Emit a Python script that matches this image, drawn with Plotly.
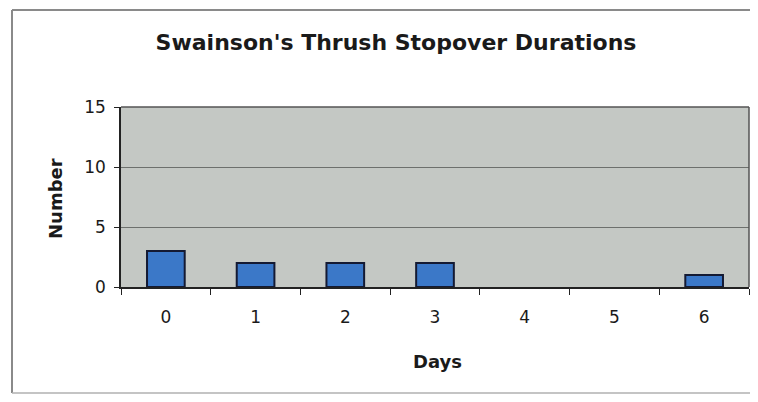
import plotly.graph_objects as go

days = ["0", "1", "2", "3", "4", "5", "6"]
counts = [3, 2, 2, 2, 0, 0, 1]
y_ticks = [0, 5, 10, 15]

# the page body has an 8px margin; size the figure so nothing overflows
OFF = 8
W, H = 758 - 2 * OFF, 402 - 2 * OFF
L, R, T, B = 121 - OFF, 1, 107 - OFF, H - (287 - OFF)
pw, ph = W - L - R, H - T - B


def px_x(x):
    return (x - OFF - L) / pw


def px_y(y):
    return (H - B - (y - OFF)) / ph


# no outline on empty bars
outline = [2 if c > 0 else 0 for c in counts]

fig = go.Figure(go.Bar(
    x=days, y=counts, width=0.42,
    marker=dict(color="#3b78c8", line=dict(color="#141a33", width=outline)),
))

fig.update_layout(
    width=W, height=H,
    margin=dict(l=L, r=R, t=T, b=B),
    paper_bgcolor="white",
    plot_bgcolor="#c4c8c4",
    font=dict(family="DejaVu Sans", color="#1a1a1a"),
    showlegend=False,
    title=dict(text="<b>Swainson's Thrush Stopover Durations</b>",
               x=(396 - OFF) / W, xanchor="center",
               y=1 - (42 - OFF) / H, yanchor="middle",
               font=dict(size=22)),
)

fig.update_xaxes(
    type="category", range=[-0.5, 6.5], tickson="boundaries",
    ticks="outside", ticklen=6, tickcolor="#222", tickwidth=1,
    showline=True, linecolor="#222", linewidth=1.5,
    showgrid=False, tickfont=dict(size=17), ticklabelstandoff=14,
)
fig.update_yaxes(
    range=[0, 15], tickvals=y_ticks, ticks="outside", ticklen=5,
    tickcolor="#222", showline=True, linecolor="#222", linewidth=1.5,
    showgrid=True, gridcolor="#6d706d", gridwidth=1, zeroline=False,
    tickfont=dict(size=17), ticklabelstandoff=5,
)

# plot border (top/right)
fig.add_shape(type="line", xref="paper", yref="paper", x0=0, x1=1, y0=1, y1=1,
              line=dict(color="#555", width=1.5))
fig.add_shape(type="line", xref="paper", yref="paper", x0=1, x1=1, y0=0, y1=1,
              line=dict(color="#555", width=1.5))
# outer chart frame: left, top, bottom
frame = dict(color="#8a8a8a", width=2)
fig.add_shape(type="line", xref="paper", yref="paper", x0=px_x(12), x1=px_x(12),
              y0=px_y(393), y1=px_y(10), line=frame, layer="below")
fig.add_shape(type="line", xref="paper", yref="paper", x0=px_x(12), x1=px_x(780),
              y0=px_y(10), y1=px_y(10), line=frame, layer="below")
fig.add_shape(type="line", xref="paper", yref="paper", x0=px_x(12), x1=px_x(780),
              y0=px_y(393), y1=px_y(393), line=dict(color="#b0b0b0", width=1.5),
              layer="below")

fig.add_annotation(text="<b>Number</b>", xref="paper", yref="paper",
                   x=px_x(55), y=px_y(199), xanchor="center", yanchor="middle",
                   textangle=-90, showarrow=False, font=dict(size=18))
fig.add_annotation(text="<b>Days</b>", xref="paper", yref="paper",
                   x=px_x(437), y=px_y(361), xanchor="center", yanchor="middle",
                   showarrow=False, font=dict(size=18))

fig.write_html("out.html")
